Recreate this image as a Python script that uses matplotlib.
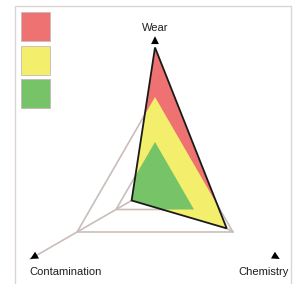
import numpy as np
import matplotlib
matplotlib.use("Agg")
import matplotlib.pyplot as plt
from matplotlib.patches import Polygon, Rectangle

# ---- data ----
axes_names = ["Wear", "Chemistry", "Contamination"]
axis_angles_deg = [90, -30, 210]
values = [3.1, 1.84, 0.6]          # measured condition per axis
zone_levels = [1.0, 2.0]           # green limit, yellow limit
zone_colors = ["#76c368", "#f3ee6c", "#ef7272"]  # green, yellow, red
axis_line_ends = [2.0, 2.0, 3.2]
arrow_tips = [3.35, 3.2, 3.2]

# ---- layout (pixels) ----
W, H = 293, 284
cx, cy = 155, 187
unit = 45.0

fig = plt.figure(figsize=(W / 100, H / 100), dpi=100)
ax = fig.add_axes([0, 0, 1, 1])
ax.set_xlim(0, W)
ax.set_ylim(H, 0)
ax.axis("off")

ang = np.deg2rad(axis_angles_deg)
dirs = np.column_stack([np.cos(ang), -np.sin(ang)])

def pts(rs):
    rs = np.asarray(rs, dtype=float)
    return np.column_stack([cx + rs * unit * dirs[:, 0], cy + rs * unit * dirs[:, 1]])

# frame
ax.add_patch(Rectangle((15, 6), 275.5, 290, fill=False, ec="#dcd4d4", lw=1.0))

gray = "#c9bdb9"
# spokes
for i in range(3):
    p = pts([axis_line_ends[j] if j == i else 0 for j in range(3)])[i]
    ax.plot([cx, p[0]], [cy, p[1]], color=gray, lw=1.2, zorder=1)
# zone triangles
for lv in zone_levels:
    tri = pts([lv] * 3)
    ax.add_patch(Polygon(tri, closed=True, fill=False, ec=gray, lw=1.2, zorder=1))

# data polygon and clipped zones
data_pts = pts(values)
clip = Polygon(data_pts, closed=True, transform=ax.transData, fill=False, lw=0)
ax.add_patch(clip)
big = max(values) * 1.5
levels_all = [big] + zone_levels[::-1]
cols_all = [zone_colors[2], zone_colors[1], zone_colors[0]]
for lv, col in zip(levels_all, cols_all):
    p = Polygon(pts([lv] * 3), closed=True, fc=col, ec="none", zorder=2)
    ax.add_patch(p)
    p.set_clip_path(clip)
ax.add_patch(Polygon(data_pts, closed=True, fill=False, ec="#1a1a1a", lw=1.3, zorder=3))

# arrowheads
for i in range(3):
    tip = np.array([cx, cy]) + arrow_tips[i] * unit * dirs[i]
    tail = tip - 6 * dirs[i]
    ax.annotate("", xy=tip, xytext=tail,
                arrowprops=dict(arrowstyle="-|>", color="black", lw=0.01,
                                mutation_scale=14, shrinkA=0, shrinkB=0), zorder=4)

# labels
font = dict(family="Liberation Sans", size=8, color="#1e1e1e")
ax.text(155, 28, axes_names[0], ha="center", va="center", **font)
ax.text(264, 272, axes_names[1], ha="center", va="center", **font)
ax.text(66, 272, axes_names[2], ha="center", va="center", **font)

# legend squares
for k, col in enumerate([zone_colors[2], zone_colors[1], zone_colors[0]]):
    ax.add_patch(Rectangle((21, 12 + 33.7 * k), 29, 29, fc=col, ec="#c8b8b8", lw=0.6))

fig.savefig("out.png", dpi=100)
